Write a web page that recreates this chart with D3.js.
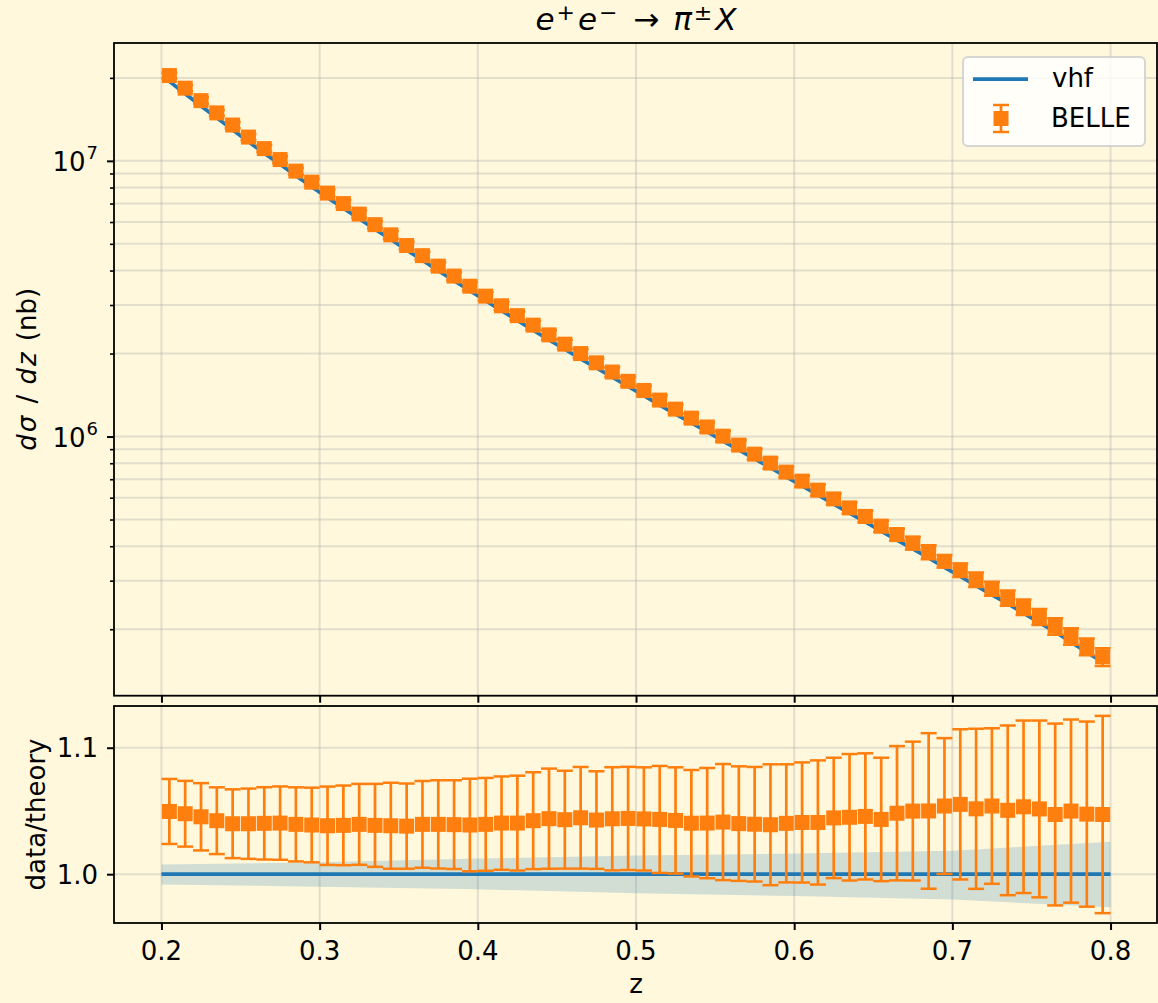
<!DOCTYPE html>
<html>
<head>
<meta charset="utf-8">
<script src="https://cdn.jsdelivr.net/npm/d3@7"></script>
<style>
  html, body { margin: 0; padding: 0; background: #fff8dc; }
  svg { display: block; font-family: "DejaVu Sans", sans-serif; }
</style>
</head>
<body>
<svg id="chart" width="1158" height="1003"></svg>
<script>
// z bin centres
const zValues = [
  0.205, 0.215, 0.225, 0.235, 0.245, 0.255, 0.265, 0.275, 0.285, 0.295,
  0.305, 0.315, 0.325, 0.335, 0.345, 0.355, 0.365, 0.375, 0.385, 0.395,
  0.405, 0.415, 0.425, 0.435, 0.445, 0.455, 0.465, 0.475, 0.485, 0.495,
  0.505, 0.515, 0.525, 0.535, 0.545, 0.555, 0.565, 0.575, 0.585, 0.595,
  0.605, 0.615, 0.625, 0.635, 0.645, 0.655, 0.665, 0.675, 0.685, 0.695,
  0.705, 0.715, 0.725, 0.735, 0.745, 0.755, 0.765, 0.775, 0.785, 0.795
];

// BELLE dsigma/dz (nb)
const belleXsec = [
  2.039e7, 1.835e7, 1.654e7, 1.493e7, 1.349e7, 1.220e7, 1.108e7, 1.011e7, 9.18e6, 8.37e6,
  7.64e6, 7.00e6, 6.41e6, 5.87e6, 5.39e6, 4.93e6, 4.53e6, 4.15e6, 3.82e6, 3.51e6,
  3.23e6, 2.98e6, 2.745e6, 2.535e6, 2.338e6, 2.163e6, 2.000e6, 1.851e6, 1.714e6, 1.586e6,
  1.469e6, 1.356e6, 1.257e6, 1.166e6, 1.083e6, 1.003e6, 9.31e5, 8.63e5, 8.01e5, 7.43e5,
  6.89e5, 6.39e5, 5.94e5, 5.51e5, 5.13e5, 4.73e5, 4.41e5, 4.11e5, 3.81e5, 3.53e5,
  3.28e5, 3.03e5, 2.81e5, 2.60e5, 2.41e5, 2.22e5, 2.05e5, 1.885e5, 1.731e5, 1.589e5
];

// data / theory
const ratioValues = [
  1.0496, 1.0478, 1.0454, 1.0423, 1.0399, 1.0399, 1.0402, 1.0404, 1.0394, 1.0389,
  1.0383, 1.0386, 1.0394, 1.0386, 1.0383, 1.0380, 1.0394, 1.0394, 1.0392, 1.0389,
  1.0394, 1.0404, 1.0404, 1.0423, 1.0439, 1.0431, 1.0446, 1.0428, 1.0438, 1.0441,
  1.0437, 1.0433, 1.0425, 1.0403, 1.0404, 1.0412, 1.0400, 1.0395, 1.0391, 1.0402,
  1.0409, 1.0409, 1.0445, 1.0450, 1.0457, 1.0433, 1.0482, 1.0499, 1.0500, 1.0539,
  1.0552, 1.0517, 1.0539, 1.0505, 1.0533, 1.0516, 1.0472, 1.0499, 1.0475, 1.0472
];

// uncertainty on data / theory
const ratioErrors = [
  0.0257, 0.0260, 0.0266, 0.0264, 0.0272, 0.0278, 0.0286, 0.0290, 0.0293, 0.0295,
  0.0310, 0.0315, 0.0320, 0.0328, 0.0340, 0.0337, 0.0343, 0.0349, 0.0351, 0.0366,
  0.0367, 0.0369, 0.0375, 0.0383, 0.0396, 0.0387, 0.0402, 0.0386, 0.0408, 0.0408,
  0.0408, 0.0423, 0.0420, 0.0421, 0.0436, 0.0459, 0.0453, 0.0453, 0.0478, 0.0467,
  0.0475, 0.0491, 0.0476, 0.0500, 0.0499, 0.0488, 0.0531, 0.0549, 0.0615, 0.0537,
  0.0594, 0.0633, 0.0615, 0.0671, 0.0682, 0.0699, 0.0719, 0.0724, 0.0732, 0.0780
];

// vhf theory uncertainty band, relative to the central value
const bandZ    = [0.2, 0.3, 0.4, 0.5, 0.6, 0.7, 0.8];
const bandLow  = [0.9919, 0.9901, 0.9880, 0.9850, 0.9827, 0.9800, 0.9738];
const bandHigh = [1.0076, 1.0095, 1.0124, 1.0147, 1.0163, 1.0186, 1.0257];

const xTicks = [0.2, 0.3, 0.4, 0.5, 0.6, 0.7, 0.8];
const xTickLabels = ["0.2", "0.3", "0.4", "0.5", "0.6", "0.7", "0.8"];
const yTopTicks = [1e6, 1e7];
const yTopTickExps = ["6", "7"];
const yTopMinor = [2e5, 3e5, 4e5, 5e5, 6e5, 7e5, 8e5, 9e5,
                   2e6, 3e6, 4e6, 5e6, 6e6, 7e6, 8e6, 9e6, 2e7];
const yBotTicks = [1.0, 1.1];
const yBotTickLabels = ["1.0", "1.1"];

const seriesNames = { theory: "vhf", data: "BELLE" };

// ---------------------------------------------------------------
const C_BLUE = "#1f77b4", C_ORANGE = "#ff7f0e", BG = "#fff8dc";
const FS = 26;
const svg = d3.select("#chart");
svg.append("rect").attr("width", 1158).attr("height", 1003).attr("fill", BG);

const L = 114, R = 1158;
const TOP0 = 43, TOP1 = 695.7, BOT0 = 706, BOT1 = 923;

const points = zValues.map((z, i) => ({
  z,
  y: belleXsec[i],
  r: ratioValues[i],
  re: ratioErrors[i],
  theory: belleXsec[i] / ratioValues[i],
  ye: belleXsec[i] * ratioErrors[i] / ratioValues[i]
}));

// x with 5% margins around the theory range
const xPad = (d3.max(bandZ) - d3.min(bandZ)) * 0.05;
const x = d3.scaleLinear().domain([d3.min(bandZ) - xPad, d3.max(bandZ) + xPad]).range([L, R]);

// log y with 5% (in decades) margins
const lmin = Math.log10(d3.min(points, d => Math.min(d.y - d.ye, d.theory)));
const lmax = Math.log10(d3.max(points, d => Math.max(d.y + d.ye, d.theory)));
const lpad = (lmax - lmin) * 0.05;
const yTop = d3.scaleLog().domain([10 ** (lmin - lpad), 10 ** (lmax + lpad)]).range([TOP1, TOP0]);

const rmin = Math.min(d3.min(points, d => d.r - d.re), d3.min(bandLow));
const rmax = Math.max(d3.max(points, d => d.r + d.re), d3.max(bandHigh));
const rpad = (rmax - rmin) * 0.05;
const yBot = d3.scaleLinear().domain([rmin - rpad, rmax + rpad]).range([BOT1, BOT0]);

const defs = svg.append("defs");
defs.append("clipPath").attr("id", "clipTop").append("rect")
  .attr("x", L).attr("y", TOP0).attr("width", R - L).attr("height", TOP1 - TOP0);
defs.append("clipPath").attr("id", "clipBot").append("rect")
  .attr("x", L).attr("y", BOT0).attr("width", R - L).attr("height", BOT1 - BOT0);

const gridStyle = s => s.attr("stroke", "#b0b0b0").attr("stroke-opacity", 0.35).attr("stroke-width", 2);

// ---------- top panel ----------
const gTop = svg.append("g");
const gTopGrid = gTop.append("g").attr("clip-path", "url(#clipTop)");
gTopGrid.selectAll("line.vx").data(xTicks).join("line")
  .attr("x1", d => x(d)).attr("x2", d => x(d)).attr("y1", TOP0).attr("y2", TOP1).call(gridStyle);
gTopGrid.selectAll("line.hy").data(yTopTicks.concat(yTopMinor)).join("line")
  .attr("x1", L).attr("x2", R).attr("y1", d => yTop(d)).attr("y2", d => yTop(d)).call(gridStyle);

const gTopPlot = gTop.append("g").attr("clip-path", "url(#clipTop)");
gTopPlot.append("path").datum(points)
  .attr("fill", "none").attr("stroke", C_BLUE).attr("stroke-width", 3.75)
  .attr("d", d3.line().x(d => x(d.z)).y(d => yTop(d.theory)));

const drawErrorbars = (g, data, xf, yf, lo, hi) => {
  const eb = g.append("g").attr("stroke", C_ORANGE);
  eb.selectAll("line.v").data(data).join("line")
    .attr("x1", d => xf(d)).attr("x2", d => xf(d))
    .attr("y1", d => yf(lo(d))).attr("y2", d => yf(hi(d)))
    .attr("stroke-width", 2.7);
  eb.selectAll("line.cl").data(data).join("line")
    .attr("x1", d => xf(d) - 8).attr("x2", d => xf(d) + 8)
    .attr("y1", d => yf(lo(d))).attr("y2", d => yf(lo(d))).attr("stroke-width", 2.5);
  eb.selectAll("line.ch").data(data).join("line")
    .attr("x1", d => xf(d) - 8).attr("x2", d => xf(d) + 8)
    .attr("y1", d => yf(hi(d))).attr("y2", d => yf(hi(d))).attr("stroke-width", 2.5);
};
const drawSquares = (g, data, xf, yf) => {
  g.append("g").selectAll("rect").data(data).join("rect")
    .attr("x", d => xf(d) - 7.5).attr("y", d => yf(d) - 7.5)
    .attr("width", 15).attr("height", 15)
    .attr("fill", C_ORANGE);
};

drawErrorbars(gTopPlot, points, d => x(d.z), yTop, d => d.y - d.ye, d => d.y + d.ye);
drawSquares(gTopPlot, points, d => x(d.z), d => yTop(d.y));

// ---------- bottom panel ----------
const gBot = svg.append("g");
const gBotGrid = gBot.append("g").attr("clip-path", "url(#clipBot)");
gBotGrid.selectAll("line.vx").data(xTicks).join("line")
  .attr("x1", d => x(d)).attr("x2", d => x(d)).attr("y1", BOT0).attr("y2", BOT1).call(gridStyle);
gBotGrid.selectAll("line.hy").data(yBotTicks).join("line")
  .attr("x1", L).attr("x2", R).attr("y1", d => yBot(d)).attr("y2", d => yBot(d)).call(gridStyle);

const gBotPlot = gBot.append("g").attr("clip-path", "url(#clipBot)");
const bandData = bandZ.map((z, i) => ({ z, lo: bandLow[i], hi: bandHigh[i] }));
gBotPlot.append("path").datum(bandData)
  .attr("fill", C_BLUE).attr("fill-opacity", 0.2)
  .attr("d", d3.area().x(d => x(d.z)).y0(d => yBot(d.lo)).y1(d => yBot(d.hi)));
gBotPlot.append("line")
  .attr("x1", x(d3.min(bandZ))).attr("x2", x(d3.max(bandZ)))
  .attr("y1", yBot(1)).attr("y2", yBot(1))
  .attr("stroke", C_BLUE).attr("stroke-width", 3.75);

drawErrorbars(gBotPlot, points, d => x(d.z), yBot, d => d.r - d.re, d => d.r + d.re);
drawSquares(gBotPlot, points, d => x(d.z), d => yBot(d.r));

// ---------- axes ----------
const styleAxis = g => {
  g.select(".domain").remove();
  g.selectAll(".tick line").attr("stroke", "#000").attr("stroke-width", 2);
  g.selectAll(".tick text").remove();
};

svg.append("g").attr("transform", `translate(0,${TOP1})`)
  .call(d3.axisBottom(x).tickValues(xTicks).tickSize(7)).call(styleAxis);
svg.append("g").attr("transform", `translate(0,${BOT1})`)
  .call(d3.axisBottom(x).tickValues(xTicks).tickSize(7)).call(styleAxis);
svg.append("g").attr("transform", `translate(${L},0)`)
  .call(d3.axisLeft(yTop).tickValues(yTopTicks).tickSize(7)).call(styleAxis);
svg.append("g").attr("transform", `translate(${L},0)`)
  .call(d3.axisLeft(yTop).tickValues(yTopMinor).tickSize(4)).call(styleAxis)
  .selectAll(".tick line").attr("stroke-width", 1.6);
svg.append("g").attr("transform", `translate(${L},0)`)
  .call(d3.axisLeft(yBot).tickValues(yBotTicks).tickSize(7)).call(styleAxis);

// spines
[[TOP0, TOP1], [BOT0, BOT1]].forEach(([a, b]) => {
  svg.append("rect").attr("x", L).attr("y", a).attr("width", R - L - 1).attr("height", b - a)
    .attr("fill", "none").attr("stroke", "#000").attr("stroke-width", 1.8);
});

// tick labels
const txt = svg.append("g").attr("font-size", FS).attr("fill", "#000");
txt.selectAll("text.xl").data(xTicks).join("text")
  .attr("x", d => x(d)).attr("y", 959.5).attr("text-anchor", "middle")
  .text((d, i) => xTickLabels[i]);
txt.selectAll("text.yb").data(yBotTicks).join("text")
  .attr("x", 98).attr("y", d => yBot(d) + 9.5).attr("text-anchor", "end")
  .text((d, i) => yBotTickLabels[i]);
yTopTicks.forEach((v, i) => {
  const t = txt.append("text").attr("x", 98).attr("y", yTop(v) + 10).attr("text-anchor", "end");
  t.append("tspan").text("10");
  t.append("tspan").attr("font-size", 18).attr("dx", 1).attr("dy", -12).text(yTopTickExps[i]);
});

// axis titles
txt.append("text").attr("x", (L + R) / 2).attr("y", 993).attr("text-anchor", "middle").text("z");

const ylab = txt.append("text").attr("text-anchor", "middle")
  .attr("transform", `translate(36,${(TOP0 + TOP1) / 2}) rotate(-90)`);
ylab.append("tspan").attr("font-style", "italic").text("d");
ylab.append("tspan").attr("font-style", "italic").attr("dx", 2).text("σ");
ylab.append("tspan").attr("dx", 4).text(" / ");
ylab.append("tspan").attr("font-style", "italic").attr("dx", 2).text("d");
ylab.append("tspan").attr("font-style", "italic").attr("dx", 2).text("z");
ylab.append("tspan").attr("dx", 3).text(" (nb)");

txt.append("text").attr("text-anchor", "middle")
  .attr("transform", `translate(45,${(BOT0 + BOT1) / 2}) rotate(-90)`)
  .text("data/theory");

// title
const title = svg.append("text").attr("x", (L + R) / 2).attr("y", 30)
  .attr("text-anchor", "middle").attr("font-size", 31).attr("fill", "#000");
title.append("tspan").attr("font-style", "italic").text("e");
title.append("tspan").attr("font-size", 22).attr("dx", 2).attr("dy", -10).text("+");
title.append("tspan").attr("font-style", "italic").attr("dx", 3).attr("dy", 10).text("e");
title.append("tspan").attr("font-size", 22).attr("dx", 2).attr("dy", -10).text("−");
title.append("tspan").attr("dx", 6).attr("dy", 10).text(" → ");
title.append("tspan").attr("font-style", "italic").attr("dx", 4).text("π");
title.append("tspan").attr("font-size", 22).attr("dx", 2).attr("dy", -10).text("±");
title.append("tspan").attr("font-style", "italic").attr("dx", 3).attr("dy", 10).text("X");

// legend
const lg = svg.append("g");
lg.append("rect").attr("x", 963).attr("y", 57).attr("width", 182).attr("height", 89)
  .attr("rx", 5).attr("fill", "#ffffff").attr("fill-opacity", 0.8)
  .attr("stroke", "#cccccc").attr("stroke-opacity", 0.8).attr("stroke-width", 2);
lg.append("line").attr("x1", 973).attr("x2", 1028).attr("y1", 79).attr("y2", 79)
  .attr("stroke", C_BLUE).attr("stroke-width", 3.75);
lg.append("text").attr("x", 1052).attr("y", 87).attr("font-size", FS).text(seriesNames.theory);
const legPt = [{ cx: 1001, cy: 118.5 }];
drawErrorbars(lg, legPt, d => d.cx, v => v, d => d.cy + 13.5, d => d.cy - 13.5);
drawSquares(lg, legPt, d => d.cx, d => d.cy);
lg.append("text").attr("x", 1051).attr("y", 127).attr("font-size", FS).text(seriesNames.data);
</script>
</body>
</html>
